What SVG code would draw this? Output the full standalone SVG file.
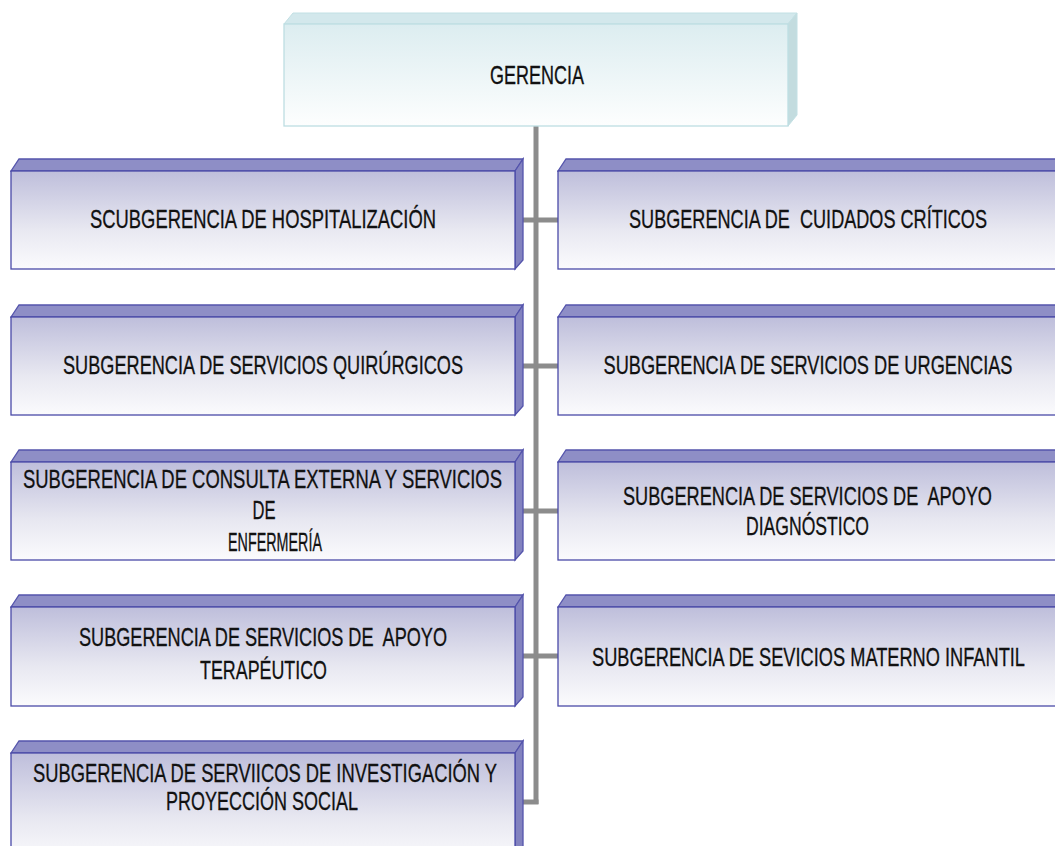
<svg xmlns="http://www.w3.org/2000/svg" width="1055" height="846" viewBox="0 0 1055 846">
<defs>
<linearGradient id="gBlue" x1="0" y1="0" x2="0" y2="1">
<stop offset="0" stop-color="#bebedb"/>
<stop offset="0.6" stop-color="#e8e8f1"/>
<stop offset="1" stop-color="#fbfbfd"/>
</linearGradient>
<linearGradient id="gCyan" x1="0" y1="0" x2="0" y2="1">
<stop offset="0" stop-color="#dcedf0"/>
<stop offset="1" stop-color="#fdfefe"/>
</linearGradient>
<style>
.front{fill:url(#gBlue);stroke:#4a4aa8;stroke-width:1.3}
.top{fill:#8e8ec6;stroke:#5454ac;stroke-width:1.3}
.side{fill:#8282bf;stroke:#5454ac;stroke-width:1.3}
.gfront{fill:url(#gCyan);stroke:#bddde2;stroke-width:1.3}
.gtop{fill:#d3e8ec;stroke:#c2e0e4;stroke-width:1}
.gside{fill:#c3dcdf;stroke:#c2e0e4;stroke-width:1}
.t{font-family:"Liberation Sans",Arial,sans-serif;font-size:25px;fill:#111;stroke:#111;stroke-width:0.3;text-anchor:middle;white-space:pre}
.c{stroke:#8c8c8c;stroke-width:5;fill:none}
</style>
</defs>
<rect width="1055" height="846" fill="#fff"/>

<g id="connectors">
<line class="c" x1="536" y1="126" x2="536" y2="804"/>
<line class="c" x1="522" y1="220" x2="558" y2="220"/>
<line class="c" x1="522" y1="366" x2="558" y2="366"/>
<line class="c" x1="522" y1="511" x2="558" y2="511"/>
<line class="c" x1="522" y1="656" x2="558" y2="656"/>
<line class="c" x1="522" y1="802" x2="538.5" y2="802"/>
</g>

<g id="gerencia">
<polygon class="gtop" points="284,24 293,13 797,13 788,24"/>
<polygon class="gside" points="788,24 797,13 797,115 788,126"/>
<rect class="gfront" x="284" y="24" width="504" height="102"/>
<text class="t" x="537" y="84" textLength="94" lengthAdjust="spacingAndGlyphs">GERENCIA</text>
</g>

<g id="hospitalizacion">
<polygon class="top" points="11,171 19,159 523,159 515,171"/>
<polygon class="side" points="515,171 523,159 523,260 515,269"/>
<rect class="front" x="11" y="171" width="504" height="98"/>
<text class="t" x="263" y="228" textLength="346" lengthAdjust="spacingAndGlyphs">SCUBGERENCIA DE HOSPITALIZACIÓN</text>
</g>

<g id="cuidados">
<polygon class="top" points="558,171 566,159 1056,159 1056,171"/>
<rect class="front" x="558" y="171" width="498" height="98"/>
<text class="t" x="808" y="228" textLength="358" lengthAdjust="spacingAndGlyphs">SUBGERENCIA DE  CUIDADOS CRÍTICOS</text>
</g>

<g id="quirurgicos">
<polygon class="top" points="11,317 19,305 523,305 515,317"/>
<polygon class="side" points="515,317 523,305 523,406 515,415"/>
<rect class="front" x="11" y="317" width="504" height="98"/>
<text class="t" x="263" y="374" textLength="400" lengthAdjust="spacingAndGlyphs">SUBGERENCIA DE SERVICIOS QUIRÚRGICOS</text>
</g>

<g id="urgencias">
<polygon class="top" points="558,317 566,305 1056,305 1056,317"/>
<rect class="front" x="558" y="317" width="498" height="98"/>
<text class="t" x="808" y="374" textLength="409" lengthAdjust="spacingAndGlyphs">SUBGERENCIA DE SERVICIOS DE URGENCIAS</text>
</g>

<g id="consulta">
<polygon class="top" points="11,462 19,450 523,450 515,462"/>
<polygon class="side" points="515,462 523,450 523,551 515,560"/>
<rect class="front" x="11" y="462" width="504" height="98"/>
<text class="t" x="262.5" y="488" textLength="479" lengthAdjust="spacingAndGlyphs">SUBGERENCIA DE CONSULTA EXTERNA Y SERVICIOS</text>
<text class="t" x="264" y="519" textLength="23" lengthAdjust="spacingAndGlyphs">DE</text>
<text class="t" x="275" y="551" textLength="94" lengthAdjust="spacingAndGlyphs">ENFERMERÍA</text>
</g>

<g id="diagnostico">
<polygon class="top" points="558,462 566,450 1056,450 1056,462"/>
<rect class="front" x="558" y="462" width="498" height="98"/>
<text class="t" x="807.5" y="505" textLength="369" lengthAdjust="spacingAndGlyphs">SUBGERENCIA DE SERVICIOS DE  APOYO</text>
<text class="t" x="807.5" y="535" textLength="123" lengthAdjust="spacingAndGlyphs">DIAGNÓSTICO</text>
</g>

<g id="terapeutico">
<polygon class="top" points="11,607 19,595 523,595 515,607"/>
<polygon class="side" points="515,607 523,595 523,697 515,706"/>
<rect class="front" x="11" y="607" width="504" height="99"/>
<text class="t" x="263" y="646" textLength="368" lengthAdjust="spacingAndGlyphs">SUBGERENCIA DE SERVICIOS DE  APOYO</text>
<text class="t" x="263.5" y="679" textLength="127" lengthAdjust="spacingAndGlyphs">TERAPÉUTICO</text>
</g>

<g id="materno">
<polygon class="top" points="558,607 566,595 1056,595 1056,607"/>
<rect class="front" x="558" y="607" width="498" height="99"/>
<text class="t" x="808.5" y="666" textLength="433" lengthAdjust="spacingAndGlyphs">SUBGERENCIA DE SEVICIOS MATERNO INFANTIL</text>
</g>

<g id="investigacion">
<polygon class="top" points="11,753 19,741 523,741 515,753"/>
<polygon class="side" points="515,753 523,741 523,850 515,860"/>
<rect class="front" x="11" y="753" width="504" height="110"/>
<text class="t" x="265" y="782" textLength="464" lengthAdjust="spacingAndGlyphs">SUBGERENCIA DE SERVIICOS DE INVESTIGACIÓN Y</text>
<text class="t" x="262" y="810" textLength="192" lengthAdjust="spacingAndGlyphs">PROYECCIÓN SOCIAL</text>
</g>
</svg>
